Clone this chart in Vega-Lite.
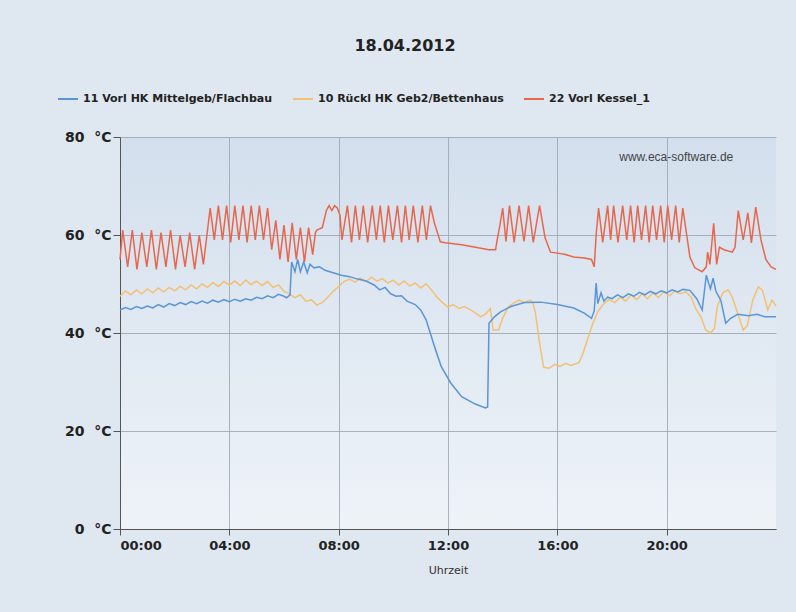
{
  "$schema": "https://vega.github.io/schema/vega-lite/v6.json",
  "autosize": {"type": "none"},
  "width": 656,
  "height": 392,
  "padding": {"left": 120, "top": 137, "right": 20, "bottom": 83},
  "background": "#dfe7f1",
  "title": {
    "text": "18.04.2012",
    "anchor": "middle",
    "frame": "group",
    "dx": -43,
    "offset": 34,
    "font": "DejaVu Sans",
    "fontSize": 16,
    "fontWeight": "bold",
    "color": "#222222"
  },
  "config": {
    "view": {
      "stroke": null,
      "fill": {
        "gradient": "linear",
        "x1": 0, "y1": 0, "x2": 0, "y2": 1,
        "stops": [
          {"offset": 0, "color": "#d3dfed"},
          {"offset": 1, "color": "#eef3f8"}
        ]
      }
    },
    "axis": {
      "gridColor": "#9aa3ad",
      "gridOpacity": 0.8,
      "domainColor": "#555555",
      "tickColor": "#555555",
      "labelColor": "#222222",
      "titleColor": "#333333"
    },
    "legend": {
      "orient": "none",
      "legendX": -63,
      "legendY": -49,
      "direction": "horizontal",
      "symbolType": "stroke",
      "symbolSize": 400,
      "symbolStrokeWidth": 2,
      "labelFont": "DejaVu Sans",
      "labelFontSize": 11,
      "labelFontWeight": "bold",
      "labelColor": "#222222",
      "columnPadding": 16,
      "labelLimit": 300
    }
  },
  "datasets": {
    "blue": [
      {"h":0,"v":44.7},{"h":0.2,"v":45.2},{"h":0.4,"v":44.8},{"h":0.6,"v":45.4},{"h":0.8,"v":45},{"h":1,"v":45.5},{"h":1.2,"v":45.1},{"h":1.4,"v":45.8},{"h":1.6,"v":45.3},{"h":1.8,"v":46},{"h":2,"v":45.6},{"h":2.2,"v":46.2},{"h":2.4,"v":45.8},{"h":2.6,"v":46.4},{"h":2.8,"v":46},{"h":3,"v":46.5},{"h":3.2,"v":46.1},{"h":3.4,"v":46.7},{"h":3.6,"v":46.3},{"h":3.8,"v":46.8},{"h":4,"v":46.4},{"h":4.2,"v":46.9},{"h":4.4,"v":46.5},{"h":4.6,"v":47},{"h":4.8,"v":46.7},{"h":5,"v":47.3},{"h":5.2,"v":47},{"h":5.4,"v":47.6},{"h":5.6,"v":47.2},{"h":5.8,"v":47.9},{"h":6,"v":47.5},{"h":6.1,"v":47.2},{"h":6.22,"v":47.8},{"h":6.28,"v":54.5},{"h":6.4,"v":52.5},{"h":6.5,"v":55},{"h":6.6,"v":52.5},{"h":6.72,"v":54.5},{"h":6.85,"v":52.3},{"h":6.95,"v":54},{"h":7.1,"v":53.3},{"h":7.3,"v":53.5},{"h":7.5,"v":52.8},{"h":7.8,"v":52.3},{"h":8.1,"v":51.8},{"h":8.4,"v":51.5},{"h":8.7,"v":51},{"h":9,"v":50.6},{"h":9.3,"v":49.8},{"h":9.5,"v":48.8},{"h":9.7,"v":49.3},{"h":9.9,"v":48},{"h":10.1,"v":47.5},{"h":10.3,"v":47.6},{"h":10.5,"v":46.5},{"h":10.8,"v":45.8},{"h":11,"v":44.7},{"h":11.2,"v":42.7},{"h":11.35,"v":40},{"h":11.55,"v":36.5},{"h":11.75,"v":33.2},{"h":12.1,"v":29.8},{"h":12.5,"v":27},{"h":13,"v":25.5},{"h":13.37,"v":24.7},{"h":13.45,"v":24.9},{"h":13.5,"v":42},{"h":13.7,"v":43.3},{"h":13.92,"v":44.3},{"h":14.3,"v":45.4},{"h":14.8,"v":46.2},{"h":15.4,"v":46.3},{"h":16,"v":45.8},{"h":16.6,"v":45.1},{"h":17,"v":44},{"h":17.25,"v":43},{"h":17.35,"v":44.5},{"h":17.42,"v":50.2},{"h":17.48,"v":46},{"h":17.6,"v":48.2},{"h":17.7,"v":46.5},{"h":17.84,"v":47.3},{"h":18,"v":47},{"h":18.2,"v":47.8},{"h":18.4,"v":47.2},{"h":18.6,"v":48},{"h":18.8,"v":47.5},{"h":19,"v":48.3},{"h":19.2,"v":47.8},{"h":19.4,"v":48.5},{"h":19.6,"v":48},{"h":19.8,"v":48.6},{"h":20,"v":48.2},{"h":20.2,"v":48.8},{"h":20.4,"v":48.4},{"h":20.6,"v":48.9},{"h":20.85,"v":48.7},{"h":21.1,"v":47},{"h":21.3,"v":44.7},{"h":21.45,"v":51.8},{"h":21.6,"v":49},{"h":21.7,"v":51.2},{"h":21.8,"v":48.5},{"h":21.98,"v":46.7},{"h":22.16,"v":42},{"h":22.34,"v":43},{"h":22.6,"v":43.8},{"h":23,"v":43.5},{"h":23.3,"v":43.8},{"h":23.6,"v":43.3},{"h":24,"v":43.3}
    ],
    "orange": [
      {"h":0,"v":47.5},{"h":0.2,"v":48.6},{"h":0.4,"v":47.8},{"h":0.6,"v":48.8},{"h":0.8,"v":48},{"h":1,"v":49},{"h":1.2,"v":48.2},{"h":1.4,"v":49.2},{"h":1.6,"v":48.4},{"h":1.8,"v":49.3},{"h":2,"v":48.6},{"h":2.2,"v":49.5},{"h":2.4,"v":48.8},{"h":2.6,"v":49.8},{"h":2.8,"v":49},{"h":3,"v":50},{"h":3.2,"v":49.3},{"h":3.4,"v":50.3},{"h":3.6,"v":49.5},{"h":3.8,"v":50.5},{"h":4,"v":49.8},{"h":4.2,"v":50.6},{"h":4.4,"v":49.7},{"h":4.6,"v":50.8},{"h":4.8,"v":49.9},{"h":5,"v":50.6},{"h":5.2,"v":49.7},{"h":5.4,"v":50.5},{"h":5.6,"v":49.3},{"h":5.8,"v":49.8},{"h":6,"v":48.5},{"h":6.2,"v":48},{"h":6.4,"v":47.2},{"h":6.6,"v":47.8},{"h":6.8,"v":46.5},{"h":7,"v":46.8},{"h":7.2,"v":45.7},{"h":7.4,"v":46.2},{"h":7.6,"v":47.3},{"h":7.8,"v":48.5},{"h":8,"v":49.5},{"h":8.2,"v":50.5},{"h":8.4,"v":51},{"h":8.6,"v":50.4},{"h":8.8,"v":51.2},{"h":9,"v":50.5},{"h":9.2,"v":51.4},{"h":9.4,"v":50.6},{"h":9.6,"v":51.1},{"h":9.8,"v":50.2},{"h":10,"v":50.8},{"h":10.2,"v":49.8},{"h":10.4,"v":50.6},{"h":10.6,"v":49.6},{"h":10.8,"v":50.2},{"h":11,"v":49.2},{"h":11.2,"v":50},{"h":11.4,"v":48.8},{"h":11.6,"v":47.3},{"h":11.8,"v":46.2},{"h":12,"v":45.3},{"h":12.2,"v":45.8},{"h":12.4,"v":45},{"h":12.6,"v":45.4},{"h":12.8,"v":44.8},{"h":13,"v":44.1},{"h":13.2,"v":43.3},{"h":13.4,"v":44},{"h":13.55,"v":45},{"h":13.65,"v":40.6},{"h":13.85,"v":40.6},{"h":14,"v":43},{"h":14.2,"v":45.3},{"h":14.4,"v":46.1},{"h":14.6,"v":46.7},{"h":14.8,"v":46.2},{"h":15,"v":46.7},{"h":15.1,"v":46.3},{"h":15.2,"v":44},{"h":15.35,"v":38},{"h":15.5,"v":33},{"h":15.7,"v":32.8},{"h":15.9,"v":33.6},{"h":16.1,"v":33.2},{"h":16.3,"v":33.8},{"h":16.5,"v":33.4},{"h":16.8,"v":34},{"h":16.95,"v":36},{"h":17.15,"v":39.5},{"h":17.3,"v":42},{"h":17.5,"v":44.5},{"h":17.7,"v":46},{"h":17.9,"v":46.8},{"h":18.1,"v":46.2},{"h":18.3,"v":47.3},{"h":18.5,"v":46.5},{"h":18.7,"v":47.8},{"h":18.9,"v":46.8},{"h":19.1,"v":48},{"h":19.3,"v":47},{"h":19.5,"v":48.2},{"h":19.7,"v":47.3},{"h":19.9,"v":48.4},{"h":20.1,"v":47.6},{"h":20.3,"v":48.6},{"h":20.5,"v":48},{"h":20.7,"v":48.4},{"h":20.9,"v":47.3},{"h":21.06,"v":45},{"h":21.25,"v":43.3},{"h":21.43,"v":40.6},{"h":21.61,"v":40},{"h":21.75,"v":41},{"h":21.85,"v":45.3},{"h":22.05,"v":48.2},{"h":22.25,"v":48.8},{"h":22.4,"v":47.3},{"h":22.6,"v":44},{"h":22.8,"v":40.6},{"h":22.95,"v":41.5},{"h":23.15,"v":46.7},{"h":23.35,"v":49.4},{"h":23.5,"v":48.8},{"h":23.7,"v":44.7},{"h":23.85,"v":46.7},{"h":24,"v":45.5}
    ],
    "red": [
      {"h":0,"v":55},{"h":0.1,"v":61},{"h":0.28,"v":53.5},{"h":0.45,"v":61},{"h":0.62,"v":53},{"h":0.8,"v":60.5},{"h":0.98,"v":53.5},{"h":1.15,"v":61},{"h":1.33,"v":53},{"h":1.5,"v":60.5},{"h":1.68,"v":53.5},{"h":1.85,"v":61},{"h":2.03,"v":53},{"h":2.2,"v":60},{"h":2.38,"v":53.5},{"h":2.55,"v":60.5},{"h":2.73,"v":53},{"h":2.9,"v":60},{"h":3.05,"v":54},{"h":3.18,"v":60},{"h":3.3,"v":65.5},{"h":3.45,"v":59},{"h":3.6,"v":66},{"h":3.75,"v":59},{"h":3.9,"v":66},{"h":4.05,"v":58.5},{"h":4.2,"v":66},{"h":4.35,"v":59},{"h":4.5,"v":66},{"h":4.65,"v":58.5},{"h":4.8,"v":66},{"h":4.95,"v":59},{"h":5.1,"v":66},{"h":5.25,"v":59},{"h":5.4,"v":65.5},{"h":5.55,"v":57},{"h":5.7,"v":63},{"h":5.85,"v":55},{"h":6,"v":62},{"h":6.15,"v":54.5},{"h":6.3,"v":62.5},{"h":6.45,"v":55},{"h":6.6,"v":61.5},{"h":6.75,"v":54.5},{"h":6.9,"v":61.5},{"h":7.05,"v":56},{"h":7.15,"v":60.5},{"h":7.2,"v":61},{"h":7.4,"v":61.5},{"h":7.55,"v":65},{"h":7.65,"v":66},{"h":7.75,"v":65},{"h":7.85,"v":66},{"h":7.95,"v":65.5},{"h":8.05,"v":64},{"h":8.12,"v":59},{"h":8.32,"v":66},{"h":8.47,"v":58.5},{"h":8.61,"v":66},{"h":8.76,"v":59},{"h":8.9,"v":66},{"h":9.06,"v":58.5},{"h":9.23,"v":66},{"h":9.38,"v":59},{"h":9.52,"v":66},{"h":9.67,"v":58.5},{"h":9.82,"v":66},{"h":9.98,"v":59},{"h":10.15,"v":66},{"h":10.3,"v":58.5},{"h":10.44,"v":66},{"h":10.58,"v":59},{"h":10.73,"v":66},{"h":10.9,"v":58.5},{"h":11.06,"v":66},{"h":11.21,"v":59},{"h":11.36,"v":66},{"h":11.5,"v":62.5},{"h":11.72,"v":58.6},{"h":11.9,"v":58.4},{"h":12.5,"v":58},{"h":13,"v":57.5},{"h":13.5,"v":57},{"h":13.74,"v":57},{"h":13.8,"v":59},{"h":13.9,"v":62},{"h":14,"v":65.5},{"h":14.12,"v":58.7},{"h":14.25,"v":66},{"h":14.42,"v":58.5},{"h":14.6,"v":66},{"h":14.78,"v":58.7},{"h":14.95,"v":66},{"h":15.12,"v":58.5},{"h":15.35,"v":66},{"h":15.55,"v":59.5},{"h":15.75,"v":56.5},{"h":16,"v":56.3},{"h":16.3,"v":56},{"h":16.6,"v":55.5},{"h":17,"v":55.3},{"h":17.25,"v":55},{"h":17.35,"v":53.5},{"h":17.42,"v":60},{"h":17.51,"v":65.5},{"h":17.66,"v":58.5},{"h":17.84,"v":66},{"h":17.95,"v":59},{"h":18.06,"v":66},{"h":18.22,"v":58.5},{"h":18.39,"v":66},{"h":18.54,"v":59},{"h":18.68,"v":66},{"h":18.81,"v":58.5},{"h":18.94,"v":66},{"h":19.08,"v":59},{"h":19.23,"v":66},{"h":19.36,"v":58.5},{"h":19.49,"v":66},{"h":19.63,"v":59},{"h":19.78,"v":66},{"h":19.91,"v":58.5},{"h":20.04,"v":66},{"h":20.18,"v":59},{"h":20.33,"v":66},{"h":20.46,"v":58.5},{"h":20.59,"v":65.5},{"h":20.85,"v":55.5},{"h":21.03,"v":53.3},{"h":21.3,"v":52.5},{"h":21.45,"v":53.5},{"h":21.5,"v":56.5},{"h":21.58,"v":54},{"h":21.72,"v":62.4},{"h":21.83,"v":54},{"h":21.93,"v":57.5},{"h":22.1,"v":57},{"h":22.4,"v":56.5},{"h":22.5,"v":57.5},{"h":22.62,"v":65},{"h":22.8,"v":59},{"h":22.97,"v":64.5},{"h":23.1,"v":58.4},{"h":23.26,"v":65.7},{"h":23.45,"v":59},{"h":23.63,"v":55},{"h":23.82,"v":53.5},{"h":24,"v":53}
    ],
    "mark": [
      {"h": 20.35, "v": 76, "label": "www.eca-software.de"}
    ]
  },
  "layer": [
    {
      "data": {"name": "orange"},
      "mark": {"type": "line", "strokeWidth": 1.5, "interpolate": "linear"},
      "encoding": {
        "x": {
          "field": "h", "type": "quantitative",
          "scale": {"domain": [0, 24], "nice": false, "zero": false},
          "axis": {
            "title": "Uhrzeit",
            "values": [0, 4, 8, 12, 16, 20],
            "labelExpr": "(datum.value < 10 ? '0' : '') + datum.value + ':00'",
            "labelFont": "DejaVu Sans",
            "labelFontSize": 13,
            "labelFontWeight": "bold",
            "labelPadding": 4,
            "tickSize": 6,
            "titleFont": "DejaVu Sans",
            "titleFontSize": 11,
            "titleFontWeight": "normal",
            "titlePadding": 12,
            "grid": true
          }
        },
        "y": {
          "field": "v", "type": "quantitative",
          "scale": {"domain": [0, 80], "nice": false},
          "axis": {
            "title": null,
            "values": [0, 20, 40, 60, 80],
            "labelExpr": "datum.value + '\u00a0\u00a0°C'",
            "labelFont": "DejaVu Sans",
            "labelFontSize": 14,
            "labelFontWeight": "bold",
            "labelPadding": 2,
            "tickSize": 7,
            "grid": true
          }
        },
        "color": {
          "datum": "10 Rückl HK Geb2/Bettenhaus",
          "type": "nominal",
          "scale": {
            "domain": ["11 Vorl HK Mittelgeb/Flachbau", "10 Rückl HK Geb2/Bettenhaus", "22 Vorl Kessel_1"],
            "range": ["#5b95d5", "#f2c173", "#e8674c"]
          },
          "legend": {"title": null}
        }
      }
    },
    {
      "data": {"name": "blue"},
      "mark": {"type": "line", "strokeWidth": 1.5},
      "encoding": {
        "x": {"field": "h", "type": "quantitative"},
        "y": {"field": "v", "type": "quantitative"},
        "color": {"datum": "11 Vorl HK Mittelgeb/Flachbau", "type": "nominal"}
      }
    },
    {
      "data": {"name": "red"},
      "mark": {"type": "line", "strokeWidth": 1.5},
      "encoding": {
        "x": {"field": "h", "type": "quantitative"},
        "y": {"field": "v", "type": "quantitative"},
        "color": {"datum": "22 Vorl Kessel_1", "type": "nominal"}
      }
    },
    {
      "data": {"name": "mark"},
      "mark": {"type": "text", "font": "Liberation Sans", "fontSize": 12, "color": "#444444"},
      "encoding": {
        "x": {"field": "h", "type": "quantitative"},
        "y": {"field": "v", "type": "quantitative"},
        "text": {"field": "label"}
      }
    }
  ]
}
